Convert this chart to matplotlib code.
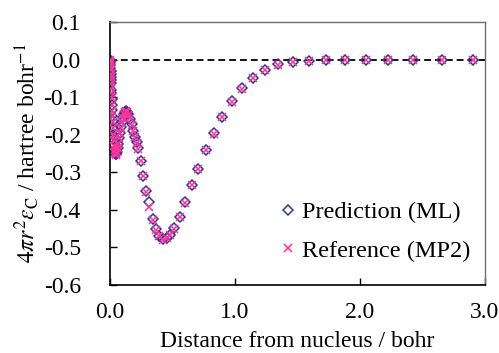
import matplotlib
matplotlib.use("Agg")
import matplotlib.pyplot as plt
from matplotlib.ticker import FormatStrFormatter

plt.rcParams['font.family'] = ['Liberation Serif', 'DejaVu Serif']
plt.rcParams['mathtext.fontset'] = 'stix'
plt.rcParams['axes.unicode_minus'] = False

# 径向距离 (bohr)
r = [0.0005, 0.001, 0.0015, 0.002, 0.003, 0.004, 0.005, 0.006, 0.007, 0.008,
     0.009, 0.011, 0.012, 0.014, 0.016, 0.018, 0.020, 0.022, 0.025, 0.028,
     0.031, 0.034, 0.038, 0.042, 0.046, 0.051, 0.056, 0.061, 0.067, 0.073,
     0.080, 0.087, 0.094, 0.102, 0.110, 0.119, 0.128, 0.138, 0.148, 0.160,
     0.173, 0.187, 0.200, 0.214, 0.227, 0.245, 0.267, 0.291, 0.315, 0.341,
     0.368, 0.396, 0.425, 0.453, 0.482, 0.515, 0.558, 0.603, 0.659, 0.707,
     0.768, 0.832, 0.899, 0.973, 1.056, 1.144, 1.237, 1.347, 1.461, 1.592,
     1.725, 1.880, 2.045, 2.227, 2.427, 2.653, 2.901]

# 预测值 (ML)
pred = [-0.001, -0.003, -0.005, -0.008, -0.015, -0.022, -0.030, -0.038, -0.046, -0.055,
        -0.063, -0.080, -0.088, -0.104, -0.120, -0.135, -0.150, -0.164, -0.183, -0.200,
        -0.215, -0.228, -0.240, -0.248, -0.252, -0.251, -0.245, -0.236, -0.224, -0.210,
        -0.195, -0.180, -0.166, -0.154, -0.145, -0.139, -0.137, -0.139, -0.146, -0.157,
        -0.172, -0.190, -0.206, -0.220, -0.236, -0.270, -0.309, -0.350, -0.378, -0.424,
        -0.452, -0.469, -0.478, -0.475, -0.466, -0.449, -0.418, -0.380, -0.333, -0.291,
        -0.241, -0.196, -0.152, -0.111, -0.077, -0.049, -0.028, -0.013, -0.007, -0.003,
        -0.002, -0.001, 0.000, 0.000, 0.000, 0.000, 0.000]

# 参考值 (MP2)
ref = [-0.001, -0.003, -0.006, -0.009, -0.014, -0.023, -0.029, -0.039, -0.047, -0.054,
       -0.064, -0.079, -0.090, -0.103, -0.121, -0.137, -0.149, -0.166, -0.182, -0.201,
       -0.214, -0.229, -0.241, -0.249, -0.253, -0.250, -0.246, -0.235, -0.225, -0.209,
       -0.196, -0.181, -0.165, -0.155, -0.146, -0.140, -0.136, -0.140, -0.147, -0.156,
       -0.173, -0.189, -0.207, -0.221, -0.237, -0.271, -0.310, -0.352, -0.393, -0.426,
       -0.453, -0.470, -0.479, -0.476, -0.467, -0.450, -0.419, -0.381, -0.334, -0.292,
       -0.242, -0.197, -0.153, -0.112, -0.078, -0.050, -0.029, -0.014, -0.007, -0.003,
       -0.002, -0.001, 0.000, 0.000, 0.000, 0.000, 0.000]

x_ticks = [0.0, 1.0, 2.0, 3.0]
y_ticks = [-0.6, -0.5, -0.4, -0.3, -0.2, -0.1, 0.0, 0.1]

FS = 17

fig = plt.figure(figsize=(4.99, 3.53), dpi=100)
ax = fig.add_axes([0.2204, 0.1926, 0.7515, 0.7451])

ax.axhline(0, color='black', ls=(0, (3.8, 2.2)), lw=1.3, zorder=1)
ax.plot(r, pred, ls='none', marker='D', ms=5.6, mfc='none', mec='#333399',
        mew=1.1, label='Prediction (ML)', zorder=2)
ax.plot(r, ref, ls='none', marker='x', ms=5.8, mec='#FF3399', mew=1.1,
        label='Reference (MP2)', zorder=3)

ax.set_xlim(0, 3.0)
ax.set_ylim(-0.6, 0.1)
ax.set_xticks(x_ticks)
ax.set_yticks(y_ticks)
ax.xaxis.set_major_formatter(FormatStrFormatter('%.1f'))
ax.yaxis.set_major_formatter(FormatStrFormatter('%.1f'))
ax.tick_params(axis='both', direction='in', length=5, width=1, labelsize=FS)
ax.tick_params(axis='x', pad=12)
ax.tick_params(axis='y', pad=21)

for s in ['left', 'bottom']:
    ax.spines[s].set_color('black')
    ax.spines[s].set_linewidth(1.2)
for s in ['top', 'right']:
    ax.spines[s].set_color('#707070')
    ax.spines[s].set_linewidth(1.0)

ax.set_xlabel('Distance from nucleus / bohr', fontsize=FS)
ax.xaxis.set_label_coords(0.5, -0.175)
fig.text(27 / 499, 1 - 153.5 / 353,
         r'$4\pi r^2\varepsilon_\mathrm{C}$ / hartree bohr$^{-1}$',
         rotation=90, ha='center', va='center', fontsize=FS)

ax.legend(loc='lower right', bbox_to_anchor=(470 / 499, 1 - 262 / 353),
          bbox_transform=fig.transFigure, frameon=False, fontsize=17.5,
          handlelength=0.6, handletextpad=0.25, labelspacing=0.68,
          borderaxespad=0, borderpad=0, numpoints=1)

fig.savefig('out.png', dpi=100)
